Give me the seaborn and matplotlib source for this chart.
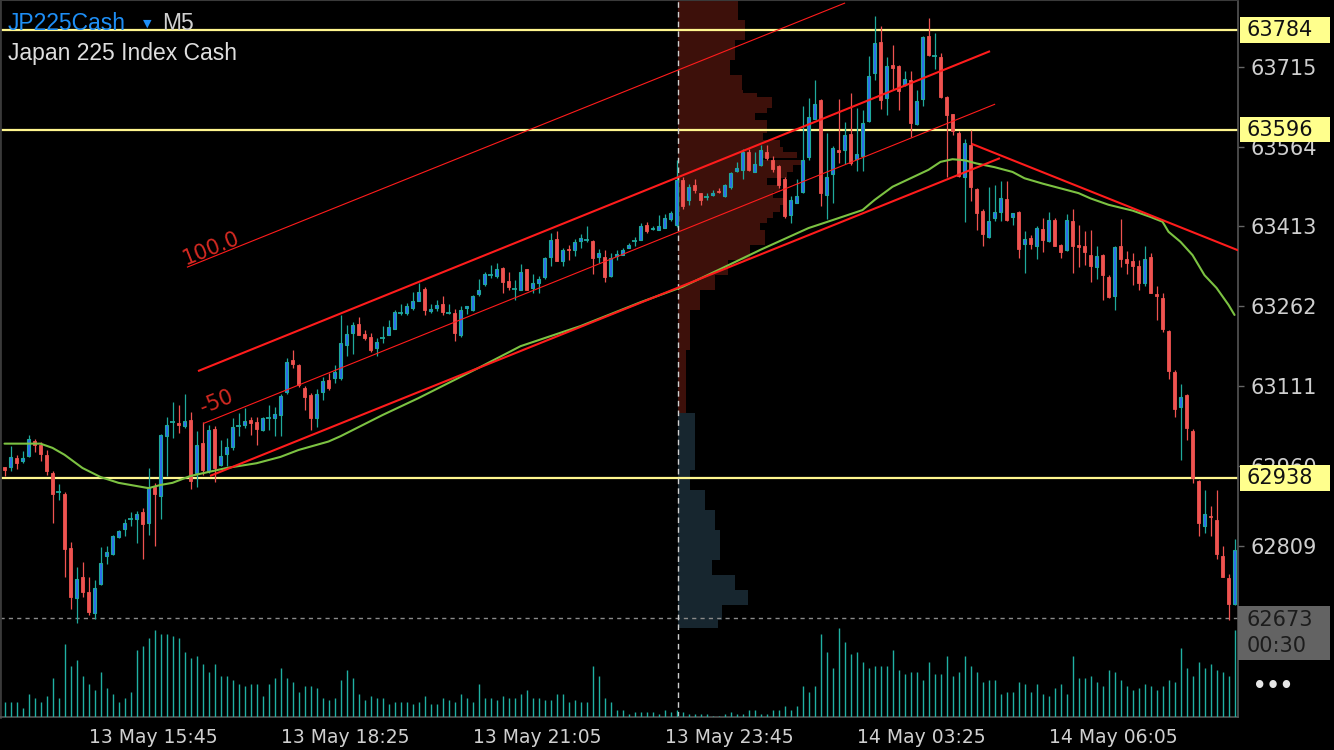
import matplotlib
matplotlib.use("Agg")
import matplotlib.pyplot as plt
import matplotlib.transforms as mtransforms
from matplotlib.patches import Rectangle
import numpy as np
import seaborn as sns

# ---- M5 candles (bar index 0 = 13 May 14:40) ----
opens = [62959, 62959, 62976, 62970, 62979, 63008, 63000, 62981, 62948, 62911,
         62908, 62806, 62711, 62751, 62723, 62684, 62738, 62790, 62795, 62826,
         62841, 62861, 62861, 62874, 62854, 62921, 62905, 63017, 63044, 63042,
         63037, 63048, 62947, 63004, 62951, 63031, 62962, 62983, 62996, 63036,
         63039, 63048, 63044, 63028, 63052, 63051, 63057, 63100, 63160, 63152,
         63108, 63095, 63051, 63100, 63124, 63127, 63127, 63190, 63212, 63229,
         63210, 63205, 63183, 63202, 63209, 63220, 63249, 63249, 63260, 63273,
         63295, 63253, 63260, 63266, 63250, 63249, 63208, 63260, 63256, 63285,
         63304, 63322, 63320, 63335, 63311, 63295, 63294, 63332, 63296, 63307,
         63318, 63356, 63390, 63347, 63370, 63368, 63386, 63387, 63386, 63356,
         63355, 63319, 63358, 63360, 63373, 63386, 63388, 63416, 63409, 63407,
         63411, 63427, 63415, 63501, 63463, 63492, 63476, 63469, 63472, 63480,
         63471, 63488, 63517, 63520, 63554, 63516, 63529, 63553, 63539, 63528,
         63503, 63434, 63458, 63478, 63544, 63616, 63652, 63472, 63512, 63558,
         63557, 63587, 63540, 63547, 63612, 63703, 63762, 63655, 63718, 63716,
         63680, 63690, 63606, 63653, 63773, 63735, 63733, 63657, 63625, 63589,
         63506, 63567, 63484, 63443, 63394, 63429, 63440, 63465, 63431, 63441,
         63380, 63392, 63377, 63409, 63385, 63426, 63378, 63368, 63424, 63378,
         63377, 63360, 63336, 63360, 63317, 63282, 63377, 63351, 63348, 63339,
         63306, 63355, 63285, 63278, 63216, 63139, 63073, 63095, 63027, 62933,
         62847, 62867, 62859, 62791, 62750, 62700]
highs = [62959, 62999, 62982, 62990, 63019, 63012, 63007, 62991, 62952, 62927,
         62912, 62817, 62770, 62779, 62751, 62745, 62808, 62810, 62831, 62840,
         62861, 62874, 62876, 62882, 62957, 62929, 63021, 63054, 63082, 63076,
         63097, 63063, 63027, 63044, 63038, 63037, 63009, 63014, 63051, 63061,
         63070, 63053, 63053, 63054, 63076, 63072, 63097, 63165, 63179, 63153,
         63112, 63098, 63107, 63128, 63137, 63152, 63246, 63227, 63233, 63243,
         63218, 63212, 63202, 63226, 63237, 63255, 63267, 63268, 63290, 63306,
         63299, 63266, 63275, 63282, 63267, 63258, 63263, 63263, 63284, 63314,
         63328, 63340, 63344, 63336, 63327, 63312, 63343, 63333, 63324, 63319,
         63356, 63401, 63405, 63372, 63378, 63390, 63399, 63414, 63387, 63370,
         63369, 63363, 63369, 63373, 63382, 63394, 63419, 63422, 63414, 63435,
         63437, 63443, 63539, 63506, 63494, 63503, 63477, 63476, 63482, 63485,
         63494, 63516, 63534, 63560, 63559, 63554, 63567, 63567, 63546, 63529,
         63507, 63470, 63502, 63640, 63655, 63690, 63653, 63589, 63565, 63654,
         63611, 63665, 63637, 63633, 63734, 63811, 63792, 63733, 63756, 63717,
         63706, 63707, 63670, 63772, 63807, 63778, 63740, 63660, 63626, 63594,
         63579, 63596, 63485, 63446, 63488, 63492, 63499, 63499, 63439, 63442,
         63405, 63397, 63414, 63429, 63441, 63429, 63379, 63437, 63446, 63416,
         63405, 63407, 63377, 63361, 63322, 63377, 63428, 63367, 63363, 63350,
         63377, 63363, 63301, 63287, 63217, 63142, 63116, 63097, 63030, 62934,
         62916, 62886, 62916, 62810, 62757, 62823]
lows = [62941, 62952, 62955, 62967, 62978, 62988, 62970, 62944, 62854, 62897,
        62752, 62691, 62664, 62714, 62680, 62672, 62736, 62775, 62793, 62825,
        62829, 62847, 62816, 62785, 62831, 62809, 62860, 62942, 63014, 63024,
        63032, 62917, 62922, 62944, 62948, 62930, 62960, 62960, 62991, 63017,
        63033, 63020, 63001, 63027, 63029, 63017, 63017, 63097, 63145, 63110,
        63066, 63028, 63035, 63085, 63105, 63118, 63124, 63168, 63173, 63208,
        63199, 63176, 63168, 63193, 63208, 63219, 63245, 63245, 63256, 63272,
        63245, 63249, 63253, 63245, 63248, 63196, 63205, 63248, 63254, 63282,
        63300, 63316, 63316, 63288, 63294, 63275, 63293, 63293, 63287, 63287,
        63314, 63339, 63347, 63339, 63349, 63358, 63373, 63384, 63324, 63344,
        63309, 63318, 63349, 63359, 63372, 63377, 63387, 63401, 63407, 63406,
        63410, 63424, 63412, 63446, 63454, 63476, 63454, 63463, 63470, 63476,
        63469, 63484, 63516, 63503, 63518, 63515, 63527, 63539, 63515, 63486,
        63429, 63419, 63457, 63477, 63539, 63615, 63451, 63427, 63457, 63532,
        63531, 63530, 63517, 63517, 63611, 63690, 63635, 63624, 63671, 63633,
        63679, 63582, 63605, 63641, 63735, 63710, 63655, 63507, 63586, 63507,
        63422, 63462, 63407, 63377, 63392, 63424, 63424, 63424, 63416, 63353,
        63326, 63371, 63351, 63364, 63384, 63376, 63354, 63367, 63326, 63336,
        63341, 63309, 63313, 63275, 63278, 63256, 63336, 63324, 63303, 63294,
        63301, 63287, 63236, 63213, 63125, 63054, 62973, 63009, 62928, 62828,
        62834, 62828, 62786, 62751, 62670, 62699]
closes = [62954, 62978, 62967, 62976, 63012, 63000, 62984, 62952, 62907, 62911,
          62805, 62714, 62747, 62722, 62686, 62730, 62778, 62798, 62828, 62838,
          62853, 62861, 62870, 62852, 62922, 62907, 63019, 63038, 63044, 63038,
          63046, 62932, 63000, 62954, 63028, 62957, 62980, 62996, 63034, 63036,
          63046, 63042, 63030, 63051, 63052, 63059, 63093, 63158, 63154, 63113,
          63092, 63052, 63097, 63122, 63108, 63139, 63193, 63210, 63227, 63208,
          63203, 63180, 63195, 63202, 63223, 63252, 63249, 63263, 63272, 63290,
          63256, 63258, 63264, 63251, 63250, 63212, 63255, 63262, 63282, 63293,
          63324, 63322, 63333, 63309, 63298, 63295, 63327, 63294, 63307, 63313,
          63354, 63387, 63348, 63368, 63368, 63384, 63391, 63387, 63354, 63362,
          63317, 63353, 63361, 63369, 63378, 63386, 63414, 63404, 63411, 63414,
          63429, 63438, 63501, 63452, 63487, 63482, 63463, 63469, 63477, 63478,
          63492, 63514, 63524, 63554, 63519, 63531, 63558, 63543, 63522, 63492,
          63432, 63463, 63471, 63538, 63620, 63644, 63476, 63506, 63561, 63553,
          63586, 63532, 63550, 63608, 63698, 63759, 63652, 63716, 63713, 63668,
          63691, 63609, 63650, 63771, 63736, 63735, 63657, 63624, 63594, 63509,
          63570, 63487, 63438, 63398, 63424, 63440, 63467, 63426, 63438, 63371,
          63389, 63379, 63410, 63387, 63425, 63377, 63364, 63425, 63377, 63375,
          63364, 63338, 63358, 63322, 63279, 63375, 63351, 63344, 63338, 63307,
          63351, 63288, 63281, 63219, 63141, 63069, 63092, 63032, 62938, 62854,
          62871, 62864, 62794, 62752, 62701, 62803]
tick_volume = [153, 153, 153, 90, 233, 193, 153, 213, 393, 193,
               733, 513, 573, 413, 333, 273, 453, 293, 233, 153,
               193, 253, 673, 713, 793, 873, 833, 833, 813, 793,
               653, 593, 613, 533, 453, 533, 413, 413, 373, 333,
               313, 333, 333, 213, 333, 393, 493, 393, 353, 253,
               313, 313, 293, 193, 173, 193, 373, 473, 393, 233,
               173, 213, 193, 193, 133, 153, 153, 153, 133, 153,
               213, 133, 133, 193, 173, 153, 233, 193, 153, 333,
               193, 193, 173, 213, 193, 193, 233, 273, 193, 193,
               173, 173, 233, 233, 153, 173, 153, 153, 513, 413,
               193, 153, 73,
               73, 33, 53, 53, 53, 53, 33, 73, 53, 73,
               53, 33, 33, 33, 33, 13, 13, 33, 53, 33,
               33, 73, 73, 33, 33, 73, 73, 113, 73, 113,
               313, 253, 313, 833, 653, 493, 893, 753, 633, 653,
               553, 493, 513, 513, 513, 673, 473, 433, 453, 453,
               373, 553, 433, 433, 613, 413, 453, 613, 513, 453,
               353, 373, 373, 233, 253, 253, 353, 333, 253, 333,
               233, 213, 293, 333, 233, 613, 393, 393, 413, 353,
               313, 473, 453, 373, 313, 273, 293, 333, 313, 273,
               313, 373, 353, 693, 493, 413, 553, 493, 533, 473,
               453, 413, 873]

# moving average read at sample bars
ma_bar = [0, 6, 8, 10, 13, 16, 19, 22, 24, 26, 28, 31, 37, 42, 46, 49, 54, 56,
          63, 69, 76, 79, 86, 96, 106, 113, 119, 126, 134, 138, 143, 145, 148,
          151, 154, 156, 158, 160, 162, 165, 168, 170, 173, 176, 179, 181, 184,
          188, 191, 193, 194, 196, 198, 200, 202, 204, 205]
ma_price = [63003, 63003, 62995, 62982, 62957, 62940, 62929, 62923, 62919, 62925,
            62929, 62942, 62957, 62966, 62978, 62991, 63007, 63017, 63057, 63089,
            63129, 63146, 63187, 63225, 63270, 63299, 63331, 63369, 63410, 63425,
            63444, 63463, 63488, 63504, 63520, 63535, 63540, 63538, 63532, 63525,
            63516, 63504, 63494, 63485, 63476, 63466, 63454, 63443, 63431, 63422,
            63403, 63384, 63359, 63321, 63297, 63265, 63246]

# session volume profile (price bin edges, high -> low)
vp_edges = [63841, 63803, 63765, 63727, 63699, 63671, 63665, 63657, 63637, 63627,
            63614, 63590, 63576, 63563, 63554, 63542, 63539, 63529, 63516, 63505,
            63491, 63478, 63467, 63454, 63440, 63429, 63420, 63406, 63378, 63350,
            63321, 63293, 63255, 63180, 63061, 62953, 62916, 62878, 62840, 62783,
            62755, 62727, 62698, 62670, 62655]
vp_volume = [60, 67, 57, 52, 64, 65, 79, 94, 89, 77, 89, 85, 102, 105, 119, 82,
             125, 115, 109, 89, 102, 95, 109, 102, 95, 89, 82, 87, 72, 50, 37,
             22, 12, 8, 17, 12, 27, 37, 42, 34, 57, 70, 44, 40]
vp_split = 63061
vp_start = 112.25

levels = [63784, 63596, 62938]
axis_ticks = [63715, 63564, 63413, 63262, 63111, 62960, 62809]
bid = 62673
time_pos = [13, 45, 77, 109, 141, 173]
time_labels = ['13 May 15:45', '13 May 18:25', '13 May 21:05',
               '13 May 23:45', '14 May 03:25', '14 May 06:05']

# channel anchors (bar, price)
channel = {
    'upper': ([32.25, 164.25], [63140, 63744], 1.5),
    'mid': ([33.13, 165.1], [63041, 63644], 0.8),
    'lower': ([34.25, 165.9], [62942, 63542], 1.5),
    'top': ([30.4, 140.1], [63336, 63835], 0.8),
    'trend': ([161.2, 205.6], [63569, 63368], 1.5),
}

sns.set_theme(style="dark", rc={"axes.facecolor": "black", "figure.facecolor": "black"})
plt.rcParams['font.family'] = ['DejaVu Sans']

UP, DN, TEAL = '#2c6cf0', '#ef5350', '#1fa99c'
RED_LINE = '#ff1c1c'

o, h, l, c = map(np.array, (opens, highs, lows, closes))
idx = np.arange(len(o))
up = c > o
dn = c < o
dj = c == o

fig = plt.figure(figsize=(13.34, 7.5), dpi=100, facecolor='black')
ax = fig.add_axes([0, 33 / 750, 1238 / 1334, 717 / 750])
ax.set_facecolor('black')
vax = ax.twinx()
ax.yaxis.tick_right()

ax.set_xlim(-0.75, 205.58)
ax.set_ylim(62486.9, 63840.6)
vax.set_ylim(0, 7170)

# volume profile
edges = np.array(vp_edges)
vol = np.array(vp_volume)
prof_col = np.where(edges[1:] >= vp_split, '#3d100a', '#17262f')
ax.barh(edges[1:], vol / 6.0, height=edges[:-1] - edges[1:], left=vp_start,
        align='edge', color=prof_col, linewidth=0, zorder=0.5)

# horizontal levels
for lv in levels:
    ax.axhline(lv, color='#fff68f', lw=1.6, zorder=1)
ax.axhline(bid, color='#8a8a8a', lw=1.0, ls=(0, (3, 3)), zorder=1)
ax.axvline(vp_start, color='#d0d0d0', lw=1.0, ls=(0, (4, 3)), zorder=1)

# candles
ax.vlines(idx[~dn], l[~dn], h[~dn], color=TEAL, lw=0.9, zorder=2)
ax.vlines(idx[dn], l[dn], h[dn], color=DN, lw=0.9, zorder=2)
ax.bar(idx[up], (c - o)[up], bottom=o[up], width=0.66, color=UP,
       edgecolor=TEAL, linewidth=0.8, zorder=2.2)
ax.bar(idx[dn], (o - c)[dn], bottom=c[dn], width=0.66, color=DN,
       edgecolor=DN, linewidth=0.6, zorder=2.2)
ax.hlines(c[dj], idx[dj] - 0.38, idx[dj] + 0.38, color=TEAL, lw=1.3, zorder=2.2)

# moving average
sns.lineplot(x=ma_bar, y=ma_price, ax=ax, color='#7cc242', lw=1.5, zorder=3)

# channel objects
for name, (xs, ys, w) in channel.items():
    ax.plot(xs, ys, color=RED_LINE, lw=w, zorder=4, solid_capstyle='butt')
ax.text(34.4, 63372, '100.0', color='#d42a22', fontsize=15, rotation=21.8,
        ha='center', va='center', rotation_mode='anchor', zorder=4)
ax.text(35.4, 63082, '-50', color='#d42a22', fontsize=15, rotation=21.8,
        ha='center', va='center', rotation_mode='anchor', zorder=4)

# tick volume
vax.vlines(idx, 0, tick_volume, color='#1fb0a3', lw=1.0)
vax.set_yticks([])
vax.tick_params(right=False, labelright=False)
for sp in vax.spines.values():
    sp.set_visible(False)

# axes styling
ax.grid(False)
ax.set_yticks(axis_ticks)
ax.set_yticklabels([str(t) for t in axis_ticks])
ax.tick_params(axis='y', which='both', right=True, left=False, labelright=True,
               labelleft=False, length=4, width=1, color='#666666',
               labelcolor='#cfcfcf', labelsize=15, pad=5)
ax.set_xticks(time_pos)
ax.set_xticklabels(time_labels)
ax.tick_params(axis='x', length=5, width=1, color='#666666', labelcolor='#d0d0d0',
               labelsize=13.5, pad=3, direction='out')
shift = mtransforms.ScaledTranslation(6 / 100, 0, fig.dpi_scale_trans)
for lab in ax.get_xticklabels():
    lab.set_horizontalalignment('left')
    lab.set_transform(lab.get_transform() + shift)
for side, col, w in (('right', '#555555', 1.2), ('bottom', '#555555', 1.2),
                     ('left', '#3a3a3a', 2.0), ('top', '#3a3a3a', 1.5)):
    ax.spines[side].set_color(col)
    ax.spines[side].set_linewidth(w)
    ax.spines[side].set_visible(True)

# price labels on the right
blend = mtransforms.blended_transform_factory(ax.transAxes, ax.transData)
for lv in levels:
    ax.add_patch(Rectangle((1.0 + 2 / 1238, lv - 24), 90 / 1238, 48, transform=blend,
                           facecolor='#ffff8d', edgecolor='none', clip_on=False, zorder=9))
    ax.text(1.0 + 9 / 1238, lv, str(lv), transform=blend, ha='left', va='center',
            color='#111111', fontsize=15, zorder=10, clip_on=False)
ax.add_patch(Rectangle((1.0, 62594), 92 / 1238, 102, transform=blend,
                       facecolor='#636363', edgecolor='none', clip_on=False, zorder=9))
ax.text(1.0 + 9 / 1238, 62670, str(bid), transform=blend, ha='left', va='center',
        color='#1c1c1c', fontsize=15, zorder=10, clip_on=False)
ax.text(1.0 + 9 / 1238, 62621, '00:30', transform=blend, ha='left', va='center',
        color='#1c1c1c', fontsize=15, zorder=10, clip_on=False)

# header
fig.text(8 / 1334, 1 - 29.5 / 750, 'JP225Cash', color='#1e8ef5', fontsize=16.5,
         family=['Liberation Sans', 'DejaVu Sans'], va='baseline')
fig.text(143 / 1334, 1 - 27 / 750, '\u25bc', color='#1e8ef5', fontsize=8,
         family=['DejaVu Sans'], va='baseline')
fig.text(162 / 1334, 1 - 29.5 / 750, 'M5', color='#d0d0d0', fontsize=16.5,
         family=['Liberation Sans', 'DejaVu Sans'], va='baseline')
fig.text(8 / 1334, 1 - 60 / 750, 'Japan 225 Index Cash', color='#dedede', fontsize=16.5,
         family=['Liberation Sans', 'DejaVu Sans'], va='baseline')
fig.text(1273 / 1334, 1 - 686 / 750, '\u2022\u2022\u2022', color='#e6e6e6', fontsize=15,
         ha='center', va='center', fontweight='bold')

fig.savefig('out.png', dpi=100, facecolor='black')
